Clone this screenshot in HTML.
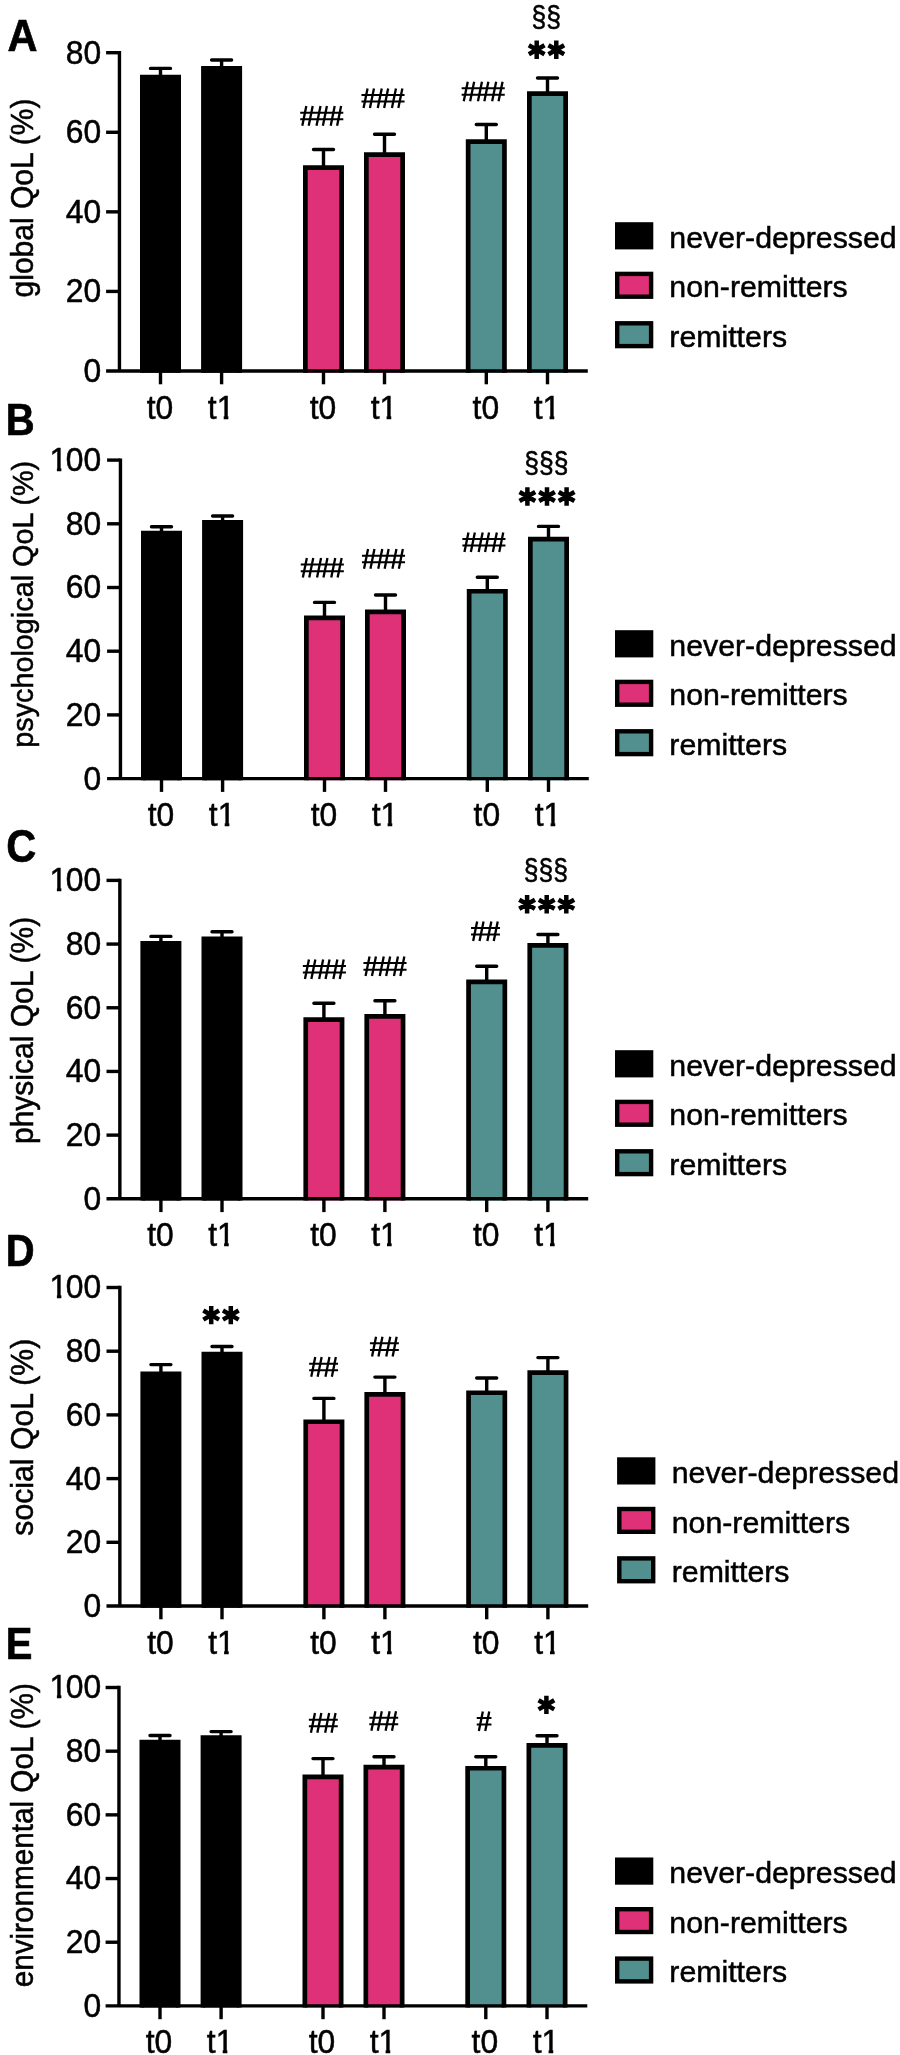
<!DOCTYPE html>
<html lang="en">
<head>
<meta charset="utf-8">
<title>Quality of life by group and time point</title>
<style>
html,body{margin:0;padding:0;background:#fff;}
body{width:900px;height:2055px;overflow:hidden;font-family:"Liberation Sans",sans-serif;}
svg{display:block;will-change:transform;}
text{font-family:"Liberation Sans",sans-serif;fill:#000;}
.t{font-size:30px;stroke:#000;stroke-width:0.5px;}
.k{font-size:31.8px;stroke:#000;stroke-width:0.5px;}
.h{font-size:26.5px;stroke:#000;stroke-width:0.5px;}
.L{font-weight:bold;stroke:#000;stroke-width:0.6px;}
.a{fill:none;stroke:#000;stroke-width:3.4;stroke-linecap:butt;}
.e{fill:none;stroke:#000;stroke-width:3.4;stroke-linecap:round;}
</style>
</head>
<body>
<svg width="900" height="2055" viewBox="0 0 900 2055">
<rect x="0" y="0" width="900" height="2055" fill="#fff"/>
<g>
<g transform="translate(0 0)">
<path d="M142.35 372.7V77.15H178.65V372.7" fill="#000000" stroke="#000" stroke-width="4.7"/>
<path d="M203.45 372.7V68.35H239.75V372.7" fill="#000000" stroke="#000" stroke-width="4.7"/>
<path d="M305.35 372.7V167.65H341.65V372.7" fill="#DE3177" stroke="#000" stroke-width="4.7"/>
<path d="M366.35 372.7V154.55H402.65V372.7" fill="#DE3177" stroke="#000" stroke-width="4.7"/>
<path d="M468.15 372.7V141.55H504.45V372.7" fill="#529090" stroke="#000" stroke-width="4.7"/>
<path d="M529.35 372.7V93.65H565.65V372.7" fill="#529090" stroke="#000" stroke-width="4.7"/>
<path d="M160.5 75.8V68.4M150.5 68.4H170.5" class="e"/>
<path d="M221.6 67V60M211.6 60H231.6" class="e"/>
<path d="M323.5 166.3V149.5M313.5 149.5H333.5" class="e"/>
<path d="M384.5 153.2V134.3M374.5 134.3H394.5" class="e"/>
<path d="M486.3 140.2V124.5M476.3 124.5H496.3" class="e"/>
<path d="M547.5 92.3V78M537.5 78H557.5" class="e"/>
<path d="M119.45 51V372.7M106.1 371H587.8" class="a"/>
<text transform="translate(101.2 381.9) scale(1 1.03)" class="k" text-anchor="end">0</text>
<path d="M106.1 291.43H119.45" class="a"/>
<text transform="translate(101.2 302.32) scale(1 1.03)" class="k" text-anchor="end">20</text>
<path d="M106.1 211.85H119.45" class="a"/>
<text transform="translate(101.2 222.75) scale(1 1.03)" class="k" text-anchor="end">40</text>
<path d="M106.1 132.28H119.45" class="a"/>
<text transform="translate(101.2 143.18) scale(1 1.03)" class="k" text-anchor="end">60</text>
<path d="M106.1 52.7H119.45" class="a"/>
<text transform="translate(101.2 63.6) scale(1 1.03)" class="k" text-anchor="end">80</text>
<path d="M160.5 371V384.3" class="a"/>
<text transform="translate(160 419.3) scale(1 1.03)" class="k" text-anchor="middle">t0</text>
<path d="M221.6 371V384.3" class="a"/>
<text transform="translate(221.1 419.3) scale(1 1.03)" class="k" text-anchor="middle">t1</text>
<path d="M217.9 415.1h5.8v6h-5.8zM228.35 415.1h5.8v6h-5.8z" fill="#fff"/>
<path d="M323.5 371V384.3" class="a"/>
<text transform="translate(323 419.3) scale(1 1.03)" class="k" text-anchor="middle">t0</text>
<path d="M384.5 371V384.3" class="a"/>
<text transform="translate(384 419.3) scale(1 1.03)" class="k" text-anchor="middle">t1</text>
<path d="M380.8 415.1h5.8v6h-5.8zM391.25 415.1h5.8v6h-5.8z" fill="#fff"/>
<path d="M486.3 371V384.3" class="a"/>
<text transform="translate(485.8 419.3) scale(1 1.03)" class="k" text-anchor="middle">t0</text>
<path d="M547.5 371V384.3" class="a"/>
<text transform="translate(547 419.3) scale(1 1.03)" class="k" text-anchor="middle">t1</text>
<path d="M543.8 415.1h5.8v6h-5.8zM554.25 415.1h5.8v6h-5.8z" fill="#fff"/>
</g>
<text transform="translate(33.4 198) rotate(-90) scale(1 1.05)" class="t" style="font-size:30px" text-anchor="middle">global QoL (%)</text>
<text transform="translate(7.4 50.7) scale(1 1.07)" class="L" font-size="41.5">A</text>
<path d="M306.3 106.1L302.3 125.7M312.7 106.1L308.7 125.7M320.5 106.1L316.5 125.7M326.9 106.1L322.9 125.7M334.7 106.1L330.7 125.7M341.1 106.1L337.1 125.7" fill="none" stroke="#000" stroke-width="2.3"/><path d="M300.2 112.65H343.3M300.2 119.25H343.3" fill="none" stroke="#000" stroke-width="2"/>
<path d="M367.55 88.4L363.55 108M373.95 88.4L369.95 108M381.75 88.4L377.75 108M388.15 88.4L384.15 108M395.95 88.4L391.95 108M402.35 88.4L398.35 108" fill="none" stroke="#000" stroke-width="2.3"/><path d="M361.45 94.95H404.55M361.45 101.55H404.55" fill="none" stroke="#000" stroke-width="2"/>
<path d="M467.75 81.7L463.75 101.3M474.15 81.7L470.15 101.3M481.95 81.7L477.95 101.3M488.35 81.7L484.35 101.3M496.15 81.7L492.15 101.3M502.55 81.7L498.55 101.3" fill="none" stroke="#000" stroke-width="2.3"/><path d="M461.65 88.25H504.75M461.65 94.85H504.75" fill="none" stroke="#000" stroke-width="2"/>
<path d="M536.7 40.6L536.7 59M528.86 45.27L544.54 54.32M544.54 45.27L528.86 54.32M556.3 40.6L556.3 59M548.46 45.27L564.14 54.32M564.14 45.27L548.46 54.32" fill="none" stroke="#000" stroke-width="4.5"/>
<text transform="translate(546.3 26.6) scale(1 1.11)" class="h" text-anchor="middle">§§</text>
<rect x="617.2" y="224.4" width="33.9" height="22.8" fill="#000000" stroke="#000" stroke-width="4.4"/>
<text x="669.3" y="247.7" class="t" style="font-size:30.3px">never-depressed</text>
<rect x="617.2" y="273.9" width="33.9" height="22.8" fill="#DE3177" stroke="#000" stroke-width="4.4"/>
<text x="669.3" y="297.2" class="t" style="font-size:30.3px">non-remitters</text>
<rect x="617.2" y="323.3" width="33.9" height="22.8" fill="#529090" stroke="#000" stroke-width="4.4"/>
<text x="669.3" y="346.6" class="t" style="font-size:30.3px">remitters</text>
</g>
<g>
<g transform="translate(1 0)">
<path d="M142.35 780.3V533.05H178.65V780.3" fill="#000000" stroke="#000" stroke-width="4.7"/>
<path d="M203.45 780.3V522.35H239.75V780.3" fill="#000000" stroke="#000" stroke-width="4.7"/>
<path d="M305.35 780.3V617.95H341.65V780.3" fill="#DE3177" stroke="#000" stroke-width="4.7"/>
<path d="M366.35 780.3V611.95H402.65V780.3" fill="#DE3177" stroke="#000" stroke-width="4.7"/>
<path d="M468.15 780.3V591.25H504.45V780.3" fill="#529090" stroke="#000" stroke-width="4.7"/>
<path d="M529.35 780.3V539.05H565.65V780.3" fill="#529090" stroke="#000" stroke-width="4.7"/>
<path d="M160.5 531.7V526.7M150.5 526.7H170.5" class="e"/>
<path d="M221.6 521V516M211.6 516H231.6" class="e"/>
<path d="M323.5 616.6V602.4M313.5 602.4H333.5" class="e"/>
<path d="M384.5 610.6V595M374.5 595H394.5" class="e"/>
<path d="M486.3 589.9V577.2M476.3 577.2H496.3" class="e"/>
<path d="M547.5 537.7V526.4M537.5 526.4H557.5" class="e"/>
<path d="M119.45 458.4V780.3M106.1 778.6H587.8" class="a"/>
<text transform="translate(100.2 789.5) scale(1 1.03)" class="k" text-anchor="end">0</text>
<path d="M106.1 714.9H119.45" class="a"/>
<text transform="translate(100.2 725.8) scale(1 1.03)" class="k" text-anchor="end">20</text>
<path d="M106.1 651.2H119.45" class="a"/>
<text transform="translate(100.2 662.1) scale(1 1.03)" class="k" text-anchor="end">40</text>
<path d="M106.1 587.5H119.45" class="a"/>
<text transform="translate(100.2 598.4) scale(1 1.03)" class="k" text-anchor="end">60</text>
<path d="M106.1 523.8H119.45" class="a"/>
<text transform="translate(100.2 534.7) scale(1 1.03)" class="k" text-anchor="end">80</text>
<path d="M106.1 460.1H119.45" class="a"/>
<text transform="translate(100.2 471) scale(1 1.03)" class="k" text-anchor="end">00</text>
<text transform="translate(66.23 471) scale(1 1.03)" class="k" text-anchor="end">1</text>
<path d="M49.7 467h6.2v6h-6.2zM60.35 467h5.6v6h-5.6z" fill="#fff"/>
<path d="M160.5 778.6V791.9" class="a"/>
<text transform="translate(160 825.6) scale(1 1.03)" class="k" text-anchor="middle">t0</text>
<path d="M221.6 778.6V791.9" class="a"/>
<text transform="translate(221.1 825.6) scale(1 1.03)" class="k" text-anchor="middle">t1</text>
<path d="M217.9 821.4h5.8v6h-5.8zM228.35 821.4h5.8v6h-5.8z" fill="#fff"/>
<path d="M323.5 778.6V791.9" class="a"/>
<text transform="translate(323 825.6) scale(1 1.03)" class="k" text-anchor="middle">t0</text>
<path d="M384.5 778.6V791.9" class="a"/>
<text transform="translate(384 825.6) scale(1 1.03)" class="k" text-anchor="middle">t1</text>
<path d="M380.8 821.4h5.8v6h-5.8zM391.25 821.4h5.8v6h-5.8z" fill="#fff"/>
<path d="M486.3 778.6V791.9" class="a"/>
<text transform="translate(485.8 825.6) scale(1 1.03)" class="k" text-anchor="middle">t0</text>
<path d="M547.5 778.6V791.9" class="a"/>
<text transform="translate(547 825.6) scale(1 1.03)" class="k" text-anchor="middle">t1</text>
<path d="M543.8 821.4h5.8v6h-5.8zM554.25 821.4h5.8v6h-5.8z" fill="#fff"/>
</g>
<text transform="translate(33.4 604.3) rotate(-90) scale(1 1.05)" class="t" style="font-size:28.8px" text-anchor="middle">psychological QoL (%)</text>
<text transform="translate(5.85 435.3) scale(1 1.11)" class="L" font-size="40">B</text>
<path d="M306.85 558L302.85 577.6M313.25 558L309.25 577.6M321.05 558L317.05 577.6M327.45 558L323.45 577.6M335.25 558L331.25 577.6M341.65 558L337.65 577.6" fill="none" stroke="#000" stroke-width="2.3"/><path d="M300.75 564.55H343.85M300.75 571.15H343.85" fill="none" stroke="#000" stroke-width="2"/>
<path d="M368.05 549.1L364.05 568.7M374.45 549.1L370.45 568.7M382.25 549.1L378.25 568.7M388.65 549.1L384.65 568.7M396.45 549.1L392.45 568.7M402.85 549.1L398.85 568.7" fill="none" stroke="#000" stroke-width="2.3"/><path d="M361.95 555.65H405.05M361.95 562.25H405.05" fill="none" stroke="#000" stroke-width="2"/>
<path d="M468.45 532.4L464.45 552M474.85 532.4L470.85 552M482.65 532.4L478.65 552M489.05 532.4L485.05 552M496.85 532.4L492.85 552M503.25 532.4L499.25 552" fill="none" stroke="#000" stroke-width="2.3"/><path d="M462.35 538.95H505.45M462.35 545.55H505.45" fill="none" stroke="#000" stroke-width="2"/>
<path d="M527.4 487.3L527.4 505.7M519.56 491.98L535.24 501.02M535.24 491.98L519.56 501.02M547 487.3L547 505.7M539.16 491.98L554.84 501.02M554.84 491.98L539.16 501.02M566.6 487.3L566.6 505.7M558.76 491.98L574.44 501.02M574.44 491.98L558.76 501.02" fill="none" stroke="#000" stroke-width="4.5"/>
<text transform="translate(546.3 473) scale(1 1.11)" class="h" text-anchor="middle">§§§</text>
<rect x="617.2" y="632.4" width="33.9" height="22.8" fill="#000000" stroke="#000" stroke-width="4.4"/>
<text x="669.3" y="655.7" class="t" style="font-size:30.3px">never-depressed</text>
<rect x="617.2" y="681.9" width="33.9" height="22.8" fill="#DE3177" stroke="#000" stroke-width="4.4"/>
<text x="669.3" y="705.2" class="t" style="font-size:30.3px">non-remitters</text>
<rect x="617.2" y="731.3" width="33.9" height="22.8" fill="#529090" stroke="#000" stroke-width="4.4"/>
<text x="669.3" y="754.6" class="t" style="font-size:30.3px">remitters</text>
</g>
<g>
<g transform="translate(0.4 0)">
<path d="M142.35 1200.5V943.25H178.65V1200.5" fill="#000000" stroke="#000" stroke-width="4.7"/>
<path d="M203.45 1200.5V938.75H239.75V1200.5" fill="#000000" stroke="#000" stroke-width="4.7"/>
<path d="M305.35 1200.5V1019.65H341.65V1200.5" fill="#DE3177" stroke="#000" stroke-width="4.7"/>
<path d="M366.35 1200.5V1016.35H402.65V1200.5" fill="#DE3177" stroke="#000" stroke-width="4.7"/>
<path d="M468.15 1200.5V981.95H504.45V1200.5" fill="#529090" stroke="#000" stroke-width="4.7"/>
<path d="M529.35 1200.5V945.35H565.65V1200.5" fill="#529090" stroke="#000" stroke-width="4.7"/>
<path d="M160.5 941.9V936.4M150.5 936.4H170.5" class="e"/>
<path d="M221.6 937.4V931.8M211.6 931.8H231.6" class="e"/>
<path d="M323.5 1018.3V1003.3M313.5 1003.3H333.5" class="e"/>
<path d="M384.5 1015V1000.7M374.5 1000.7H394.5" class="e"/>
<path d="M486.3 980.6V966.2M476.3 966.2H496.3" class="e"/>
<path d="M547.5 944V934.5M537.5 934.5H557.5" class="e"/>
<path d="M119.45 878.7V1200.5M106.1 1198.8H587.8" class="a"/>
<text transform="translate(100.8 1209.7) scale(1 1.03)" class="k" text-anchor="end">0</text>
<path d="M106.1 1135.12H119.45" class="a"/>
<text transform="translate(100.8 1146.02) scale(1 1.03)" class="k" text-anchor="end">20</text>
<path d="M106.1 1071.44H119.45" class="a"/>
<text transform="translate(100.8 1082.34) scale(1 1.03)" class="k" text-anchor="end">40</text>
<path d="M106.1 1007.76H119.45" class="a"/>
<text transform="translate(100.8 1018.66) scale(1 1.03)" class="k" text-anchor="end">60</text>
<path d="M106.1 944.08H119.45" class="a"/>
<text transform="translate(100.8 954.98) scale(1 1.03)" class="k" text-anchor="end">80</text>
<path d="M106.1 880.4H119.45" class="a"/>
<text transform="translate(100.8 891.3) scale(1 1.03)" class="k" text-anchor="end">00</text>
<text transform="translate(66.83 891.3) scale(1 1.03)" class="k" text-anchor="end">1</text>
<path d="M50.3 887.3h6.2v6h-6.2zM60.95 887.3h5.6v6h-5.6z" fill="#fff"/>
<path d="M160.5 1198.8V1212.1" class="a"/>
<text transform="translate(160 1246.3) scale(1 1.03)" class="k" text-anchor="middle">t0</text>
<path d="M221.6 1198.8V1212.1" class="a"/>
<text transform="translate(221.1 1246.3) scale(1 1.03)" class="k" text-anchor="middle">t1</text>
<path d="M217.9 1242.1h5.8v6h-5.8zM228.35 1242.1h5.8v6h-5.8z" fill="#fff"/>
<path d="M323.5 1198.8V1212.1" class="a"/>
<text transform="translate(323 1246.3) scale(1 1.03)" class="k" text-anchor="middle">t0</text>
<path d="M384.5 1198.8V1212.1" class="a"/>
<text transform="translate(384 1246.3) scale(1 1.03)" class="k" text-anchor="middle">t1</text>
<path d="M380.8 1242.1h5.8v6h-5.8zM391.25 1242.1h5.8v6h-5.8z" fill="#fff"/>
<path d="M486.3 1198.8V1212.1" class="a"/>
<text transform="translate(485.8 1246.3) scale(1 1.03)" class="k" text-anchor="middle">t0</text>
<path d="M547.5 1198.8V1212.1" class="a"/>
<text transform="translate(547 1246.3) scale(1 1.03)" class="k" text-anchor="middle">t1</text>
<path d="M543.8 1242.1h5.8v6h-5.8zM554.25 1242.1h5.8v6h-5.8z" fill="#fff"/>
</g>
<text transform="translate(33.4 1030.4) rotate(-90) scale(1 1.05)" class="t" style="font-size:30px" text-anchor="middle">physical QoL (%)</text>
<text transform="translate(6.2 861.5) scale(1 1.11)" class="L" font-size="41.5">C</text>
<path d="M308.95 959.4L304.95 979M315.35 959.4L311.35 979M323.15 959.4L319.15 979M329.55 959.4L325.55 979M337.35 959.4L333.35 979M343.75 959.4L339.75 979" fill="none" stroke="#000" stroke-width="2.3"/><path d="M302.85 965.95H345.95M302.85 972.55H345.95" fill="none" stroke="#000" stroke-width="2"/>
<path d="M369.55 956.5L365.55 976.1M375.95 956.5L371.95 976.1M383.75 956.5L379.75 976.1M390.15 956.5L386.15 976.1M397.95 956.5L393.95 976.1M404.35 956.5L400.35 976.1" fill="none" stroke="#000" stroke-width="2.3"/><path d="M363.45 963.05H406.55M363.45 969.65H406.55" fill="none" stroke="#000" stroke-width="2"/>
<path d="M477.15 921.4L473.15 941M483.55 921.4L479.55 941M491.35 921.4L487.35 941M497.75 921.4L493.75 941" fill="none" stroke="#000" stroke-width="2.3"/><path d="M471.05 927.95H499.95M471.05 934.55H499.95" fill="none" stroke="#000" stroke-width="2"/>
<path d="M527.1 895L527.1 913.4M519.26 899.68L534.94 908.73M534.94 899.68L519.26 908.73M546.7 895L546.7 913.4M538.86 899.68L554.54 908.73M554.54 899.68L538.86 908.73M566.3 895L566.3 913.4M558.46 899.68L574.14 908.73M574.14 899.68L558.46 908.73" fill="none" stroke="#000" stroke-width="4.5"/>
<text transform="translate(545.8 880.2) scale(1 1.11)" class="h" text-anchor="middle">§§§</text>
<rect x="617.2" y="1052.4" width="33.9" height="22.8" fill="#000000" stroke="#000" stroke-width="4.4"/>
<text x="669.3" y="1075.7" class="t" style="font-size:30.3px">never-depressed</text>
<rect x="617.2" y="1101.9" width="33.9" height="22.8" fill="#DE3177" stroke="#000" stroke-width="4.4"/>
<text x="669.3" y="1125.2" class="t" style="font-size:30.3px">non-remitters</text>
<rect x="617.2" y="1151.3" width="33.9" height="22.8" fill="#529090" stroke="#000" stroke-width="4.4"/>
<text x="669.3" y="1174.6" class="t" style="font-size:30.3px">remitters</text>
</g>
<g>
<g transform="translate(0.4 0)">
<path d="M142.35 1607.7V1373.75H178.65V1607.7" fill="#000000" stroke="#000" stroke-width="4.7"/>
<path d="M203.45 1607.7V1354.15H239.75V1607.7" fill="#000000" stroke="#000" stroke-width="4.7"/>
<path d="M305.35 1607.7V1421.75H341.65V1607.7" fill="#DE3177" stroke="#000" stroke-width="4.7"/>
<path d="M366.35 1607.7V1394.35H402.65V1607.7" fill="#DE3177" stroke="#000" stroke-width="4.7"/>
<path d="M468.15 1607.7V1392.75H504.45V1607.7" fill="#529090" stroke="#000" stroke-width="4.7"/>
<path d="M529.35 1607.7V1372.55H565.65V1607.7" fill="#529090" stroke="#000" stroke-width="4.7"/>
<path d="M160.5 1372.4V1364.6M150.5 1364.6H170.5" class="e"/>
<path d="M221.6 1352.8V1346.5M211.6 1346.5H231.6" class="e"/>
<path d="M323.5 1420.4V1398.4M313.5 1398.4H333.5" class="e"/>
<path d="M384.5 1393V1377.1M374.5 1377.1H394.5" class="e"/>
<path d="M486.3 1391.4V1378M476.3 1378H496.3" class="e"/>
<path d="M547.5 1371.2V1357.6M537.5 1357.6H557.5" class="e"/>
<path d="M119.45 1285.8V1607.7M106.1 1606H587.8" class="a"/>
<text transform="translate(100.8 1616.9) scale(1 1.03)" class="k" text-anchor="end">0</text>
<path d="M106.1 1542.3H119.45" class="a"/>
<text transform="translate(100.8 1553.2) scale(1 1.03)" class="k" text-anchor="end">20</text>
<path d="M106.1 1478.6H119.45" class="a"/>
<text transform="translate(100.8 1489.5) scale(1 1.03)" class="k" text-anchor="end">40</text>
<path d="M106.1 1414.9H119.45" class="a"/>
<text transform="translate(100.8 1425.8) scale(1 1.03)" class="k" text-anchor="end">60</text>
<path d="M106.1 1351.2H119.45" class="a"/>
<text transform="translate(100.8 1362.1) scale(1 1.03)" class="k" text-anchor="end">80</text>
<path d="M106.1 1287.5H119.45" class="a"/>
<text transform="translate(100.8 1298.4) scale(1 1.03)" class="k" text-anchor="end">00</text>
<text transform="translate(66.83 1298.4) scale(1 1.03)" class="k" text-anchor="end">1</text>
<path d="M50.3 1294.4h6.2v6h-6.2zM60.95 1294.4h5.6v6h-5.6z" fill="#fff"/>
<path d="M160.5 1606V1619.3" class="a"/>
<text transform="translate(160 1653.6) scale(1 1.03)" class="k" text-anchor="middle">t0</text>
<path d="M221.6 1606V1619.3" class="a"/>
<text transform="translate(221.1 1653.6) scale(1 1.03)" class="k" text-anchor="middle">t1</text>
<path d="M217.9 1649.4h5.8v6h-5.8zM228.35 1649.4h5.8v6h-5.8z" fill="#fff"/>
<path d="M323.5 1606V1619.3" class="a"/>
<text transform="translate(323 1653.6) scale(1 1.03)" class="k" text-anchor="middle">t0</text>
<path d="M384.5 1606V1619.3" class="a"/>
<text transform="translate(384 1653.6) scale(1 1.03)" class="k" text-anchor="middle">t1</text>
<path d="M380.8 1649.4h5.8v6h-5.8zM391.25 1649.4h5.8v6h-5.8z" fill="#fff"/>
<path d="M486.3 1606V1619.3" class="a"/>
<text transform="translate(485.8 1653.6) scale(1 1.03)" class="k" text-anchor="middle">t0</text>
<path d="M547.5 1606V1619.3" class="a"/>
<text transform="translate(547 1653.6) scale(1 1.03)" class="k" text-anchor="middle">t1</text>
<path d="M543.8 1649.4h5.8v6h-5.8zM554.25 1649.4h5.8v6h-5.8z" fill="#fff"/>
</g>
<text transform="translate(33.4 1437.2) rotate(-90) scale(1 1.05)" class="t" style="font-size:30.2px" text-anchor="middle">social QoL (%)</text>
<text transform="translate(5.85 1266.1) scale(1 1.12)" class="L" font-size="40">D</text>
<path d="M211.2 1305.9L211.2 1324.3M203.36 1310.57L219.04 1319.62M219.04 1310.57L203.36 1319.62M230.8 1305.9L230.8 1324.3M222.96 1310.57L238.64 1319.62M238.64 1310.57L222.96 1319.62" fill="none" stroke="#000" stroke-width="4.5"/>
<path d="M315.25 1357.1L311.25 1376.7M321.65 1357.1L317.65 1376.7M329.45 1357.1L325.45 1376.7M335.85 1357.1L331.85 1376.7" fill="none" stroke="#000" stroke-width="2.3"/><path d="M309.15 1363.65H338.05M309.15 1370.25H338.05" fill="none" stroke="#000" stroke-width="2"/>
<path d="M376.05 1336.8L372.05 1356.4M382.45 1336.8L378.45 1356.4M390.25 1336.8L386.25 1356.4M396.65 1336.8L392.65 1356.4" fill="none" stroke="#000" stroke-width="2.3"/><path d="M369.95 1343.35H398.85M369.95 1349.95H398.85" fill="none" stroke="#000" stroke-width="2"/>
<rect x="619.3" y="1459.5" width="33.9" height="22.8" fill="#000000" stroke="#000" stroke-width="4.4"/>
<text x="671.7" y="1483.3" class="t" style="font-size:30.3px">never-depressed</text>
<rect x="619.3" y="1509" width="33.9" height="22.8" fill="#DE3177" stroke="#000" stroke-width="4.4"/>
<text x="671.7" y="1532.8" class="t" style="font-size:30.3px">non-remitters</text>
<rect x="619.3" y="1558.4" width="33.9" height="22.8" fill="#529090" stroke="#000" stroke-width="4.4"/>
<text x="671.7" y="1582.2" class="t" style="font-size:30.3px">remitters</text>
</g>
<g>
<g transform="translate(-0.5 0)">
<path d="M142.35 2007.6V1742.15H178.65V2007.6" fill="#000000" stroke="#000" stroke-width="4.7"/>
<path d="M203.45 2007.6V1737.55H239.75V2007.6" fill="#000000" stroke="#000" stroke-width="4.7"/>
<path d="M305.35 2007.6V1776.95H341.65V2007.6" fill="#DE3177" stroke="#000" stroke-width="4.7"/>
<path d="M366.35 2007.6V1767.05H402.65V2007.6" fill="#DE3177" stroke="#000" stroke-width="4.7"/>
<path d="M468.15 2007.6V1768.25H504.45V2007.6" fill="#529090" stroke="#000" stroke-width="4.7"/>
<path d="M529.35 2007.6V1745.35H565.65V2007.6" fill="#529090" stroke="#000" stroke-width="4.7"/>
<path d="M160.5 1740.8V1735.5M150.5 1735.5H170.5" class="e"/>
<path d="M221.6 1736.2V1731.6M211.6 1731.6H231.6" class="e"/>
<path d="M323.5 1775.6V1758.6M313.5 1758.6H333.5" class="e"/>
<path d="M384.5 1765.7V1756.8M374.5 1756.8H394.5" class="e"/>
<path d="M486.3 1766.9V1756.7M476.3 1756.7H496.3" class="e"/>
<path d="M547.5 1744V1735.7M537.5 1735.7H557.5" class="e"/>
<path d="M119.45 1685.8V2007.6M106.1 2005.9H587.8" class="a"/>
<text transform="translate(101.7 2016.8) scale(1 1.03)" class="k" text-anchor="end">0</text>
<path d="M106.1 1942.22H119.45" class="a"/>
<text transform="translate(101.7 1953.12) scale(1 1.03)" class="k" text-anchor="end">20</text>
<path d="M106.1 1878.54H119.45" class="a"/>
<text transform="translate(101.7 1889.44) scale(1 1.03)" class="k" text-anchor="end">40</text>
<path d="M106.1 1814.86H119.45" class="a"/>
<text transform="translate(101.7 1825.76) scale(1 1.03)" class="k" text-anchor="end">60</text>
<path d="M106.1 1751.18H119.45" class="a"/>
<text transform="translate(101.7 1762.08) scale(1 1.03)" class="k" text-anchor="end">80</text>
<path d="M106.1 1687.5H119.45" class="a"/>
<text transform="translate(101.7 1698.4) scale(1 1.03)" class="k" text-anchor="end">00</text>
<text transform="translate(67.73 1698.4) scale(1 1.03)" class="k" text-anchor="end">1</text>
<path d="M51.2 1694.4h6.2v6h-6.2zM61.85 1694.4h5.6v6h-5.6z" fill="#fff"/>
<path d="M160.5 2005.9V2019.2" class="a"/>
<text transform="translate(159.5 2053.4) scale(1 1.03)" class="k" text-anchor="middle">t0</text>
<path d="M221.6 2005.9V2019.2" class="a"/>
<text transform="translate(220.6 2053.4) scale(1 1.03)" class="k" text-anchor="middle">t1</text>
<path d="M217.4 2049.2h5.8v6h-5.8zM227.85 2049.2h5.8v6h-5.8z" fill="#fff"/>
<path d="M323.5 2005.9V2019.2" class="a"/>
<text transform="translate(322.5 2053.4) scale(1 1.03)" class="k" text-anchor="middle">t0</text>
<path d="M384.5 2005.9V2019.2" class="a"/>
<text transform="translate(383.5 2053.4) scale(1 1.03)" class="k" text-anchor="middle">t1</text>
<path d="M380.3 2049.2h5.8v6h-5.8zM390.75 2049.2h5.8v6h-5.8z" fill="#fff"/>
<path d="M486.3 2005.9V2019.2" class="a"/>
<text transform="translate(485.3 2053.4) scale(1 1.03)" class="k" text-anchor="middle">t0</text>
<path d="M547.5 2005.9V2019.2" class="a"/>
<text transform="translate(546.5 2053.4) scale(1 1.03)" class="k" text-anchor="middle">t1</text>
<path d="M543.3 2049.2h5.8v6h-5.8zM553.75 2049.2h5.8v6h-5.8z" fill="#fff"/>
</g>
<text transform="translate(33.4 1835.3) rotate(-90) scale(1 1.05)" class="t" style="font-size:29.7px" text-anchor="middle">environmental QoL (%)</text>
<text transform="translate(5.85 1659) scale(1 1.12)" class="L" font-size="40">E</text>
<path d="M314.95 1713.1L310.95 1732.7M321.35 1713.1L317.35 1732.7M329.15 1713.1L325.15 1732.7M335.55 1713.1L331.55 1732.7" fill="none" stroke="#000" stroke-width="2.3"/><path d="M308.85 1719.65H337.75M308.85 1726.25H337.75" fill="none" stroke="#000" stroke-width="2"/>
<path d="M375.4 1711.2L371.4 1730.8M381.8 1711.2L377.8 1730.8M389.6 1711.2L385.6 1730.8M396 1711.2L392 1730.8" fill="none" stroke="#000" stroke-width="2.3"/><path d="M369.3 1717.75H398.2M369.3 1724.35H398.2" fill="none" stroke="#000" stroke-width="2"/>
<path d="M482.85 1711.4L478.85 1731M489.25 1711.4L485.25 1731" fill="none" stroke="#000" stroke-width="2.3"/><path d="M476.75 1717.95H491.45M476.75 1724.55H491.45" fill="none" stroke="#000" stroke-width="2"/>
<path d="M546.4 1695.65L546.4 1714.05M538.56 1700.32L554.24 1709.38M554.24 1700.32L538.56 1709.38" fill="none" stroke="#000" stroke-width="4.5"/>
<rect x="617.2" y="1859.7" width="33.9" height="22.8" fill="#000000" stroke="#000" stroke-width="4.4"/>
<text x="669.3" y="1883" class="t" style="font-size:30.3px">never-depressed</text>
<rect x="617.2" y="1909.2" width="33.9" height="22.8" fill="#DE3177" stroke="#000" stroke-width="4.4"/>
<text x="669.3" y="1932.5" class="t" style="font-size:30.3px">non-remitters</text>
<rect x="617.2" y="1958.6" width="33.9" height="22.8" fill="#529090" stroke="#000" stroke-width="4.4"/>
<text x="669.3" y="1981.9" class="t" style="font-size:30.3px">remitters</text>
</g>
</svg>
</body>
</html>
